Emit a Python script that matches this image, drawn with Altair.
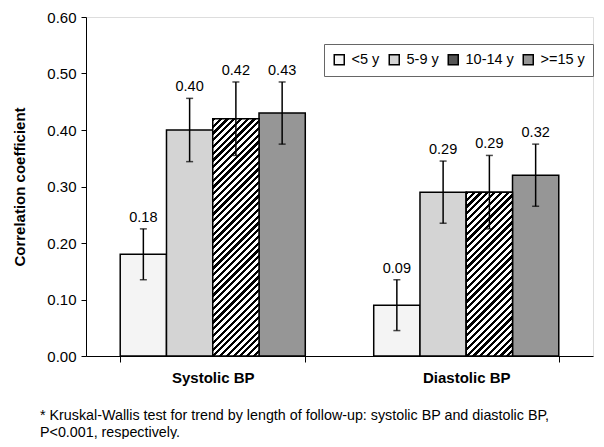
import math
import altair as alt
import pandas as pd

# ---- data ----
groups = ["Systolic BP", "Diastolic BP"]
series = ["<5 y", "5-9 y", "10-14 y", ">=15 y"]
systolic = [0.18, 0.40, 0.42, 0.43]
systolic_err = [0.045, 0.056, 0.065, 0.055]
diastolic = [0.09, 0.29, 0.29, 0.32]
diastolic_err = [0.045, 0.055, 0.065, 0.055]
y_ticks = [0.0, 0.1, 0.2, 0.3, 0.4, 0.5, 0.6]
footnote = [
    "* Kruskal-Wallis test for trend by length of follow-up: systolic BP and diastolic BP,",
    "P<0.001, respectively.",
]

rows = []
for g, vals, errs in [(groups[0], systolic, systolic_err), (groups[1], diastolic, diastolic_err)]:
    for s, v, e in zip(series, vals, errs):
        rows.append({"group": g, "series": s, "value": v, "lo": v - e, "hi": v + e})
df = pd.DataFrame(rows)

# ---- layout / style ----
FONT = "Liberation Sans"
W, H = 507, 339
Y_MAX = 0.6
P_INNER, P_OUTER = 0.27, 0.135
fills = ["#f4f4f4", "#d4d4d4", "#555555", "#969696"]

step = W / (len(groups) - P_INNER + 2 * P_OUTER)
bar_w = step * (1 - P_INNER) / len(series)

x_enc = alt.X("group:N", sort=groups, title=None,
              scale=alt.Scale(domain=groups, paddingInner=P_INNER, paddingOuter=P_OUTER),
              axis=alt.Axis(labelFontWeight="bold", labelFontSize=15, labelFont=FONT,
                            labelColor="black", domainColor="black", tickColor="black",
                            tickBand="extent", tickSize=6, labelPadding=8, labelAngle=0))
xo_enc = alt.XOffset("series:N", sort=series,
                     scale=alt.Scale(domain=series, paddingInner=0, paddingOuter=0))
y_scale = alt.Scale(domain=[0, Y_MAX], nice=False, zero=True)
y_enc = alt.Y("value:Q", scale=y_scale,
              axis=alt.Axis(values=y_ticks, format=".2f", grid=False, domainColor="black",
                            tickColor="black", tickSize=5, labelPadding=5, labelFontSize=15,
                            labelFont=FONT, labelColor="black",
                            title="Correlation coefficient", titleFontSize=15,
                            titleFont=FONT, titleFontWeight="bold", titleColor="black",
                            titlePadding=19))

base = alt.Chart(df)

bars = base.mark_bar(stroke="black", strokeWidth=1.5).encode(
    x=x_enc, xOffset=xo_enc, y=y_enc,
    fill=alt.Fill("series:N", sort=series,
                  scale=alt.Scale(domain=series, range=fills),
                  legend=alt.Legend(title=None, orient="none", legendX=238, legendY=27,
                                    direction="horizontal", strokeColor="#666666",
                                    padding=8, symbolType="square", symbolSize=100,
                                    symbolStrokeColor="black", symbolStrokeWidth=1.5,
                                    labelFontSize=14.5, labelFont=FONT, labelColor="black",
                                    labelOffset=5, columnPadding=6)),
)


def hatch(value):
    h = value / Y_MAX * H
    a = bar_w / h
    c = (a + 1) / (a * a + 1)
    n = max(1, round(((bar_w + h) / math.sqrt(2)) / 4.8))
    stops = []
    for i in range(n):
        stops += [
            {"offset": i / n, "color": "black"},
            {"offset": (i + 0.48) / n, "color": "black"},
            {"offset": (i + 0.48) / n, "color": "white"},
            {"offset": (i + 1) / n, "color": "white"},
        ]
    return {"gradient": "linear", "x1": 0, "y1": 0, "x2": a * c, "y2": c, "stops": stops}


hatch_layers = []
for g, vals in [(groups[0], systolic), (groups[1], diastolic)]:
    v = vals[2]
    hatch_layers.append(
        base.transform_filter(
            (alt.datum.group == g) & (alt.datum.series == series[2])
        ).mark_bar(stroke="black", strokeWidth=1.5, fill=hatch(v)).encode(
            x=x_enc, xOffset=xo_enc, y=y_enc)
    )

err = base.mark_rule(color="black", strokeWidth=1.5).encode(
    x=x_enc, xOffset=xo_enc, y=alt.Y("lo:Q", scale=y_scale), y2="hi:Q")
cap_lo = base.mark_tick(color="black", thickness=1.5, size=7).encode(
    x=x_enc, xOffset=xo_enc, y=alt.Y("lo:Q", scale=y_scale))
cap_hi = base.mark_tick(color="black", thickness=1.5, size=7).encode(
    x=x_enc, xOffset=xo_enc, y=alt.Y("hi:Q", scale=y_scale))
labels = base.mark_text(font=FONT, fontSize=14.5, color="black", baseline="alphabetic",
                        dy=-7).encode(
    x=x_enc, xOffset=xo_enc, y=alt.Y("hi:Q", scale=y_scale),
    text=alt.Text("value:Q", format=".2f"))

chart = alt.layer(bars, *hatch_layers, err, cap_lo, cap_hi, labels).properties(
    width=W, height=H,
    autosize=alt.AutoSizeParams(type="none"),
    padding={"left": 78, "top": 9, "right": 3, "bottom": 83},
    title=alt.TitleParams(text=footnote, orient="bottom", anchor="start", frame="group",
                          dx=-46, offset=24, fontSize=14.3, fontWeight="normal",
                          font=FONT, color="black", lineHeight=17),
).configure_view(stroke=None).configure(background="white")

chart.save("out.html", embed_options={"renderer": "svg", "actions": False})
